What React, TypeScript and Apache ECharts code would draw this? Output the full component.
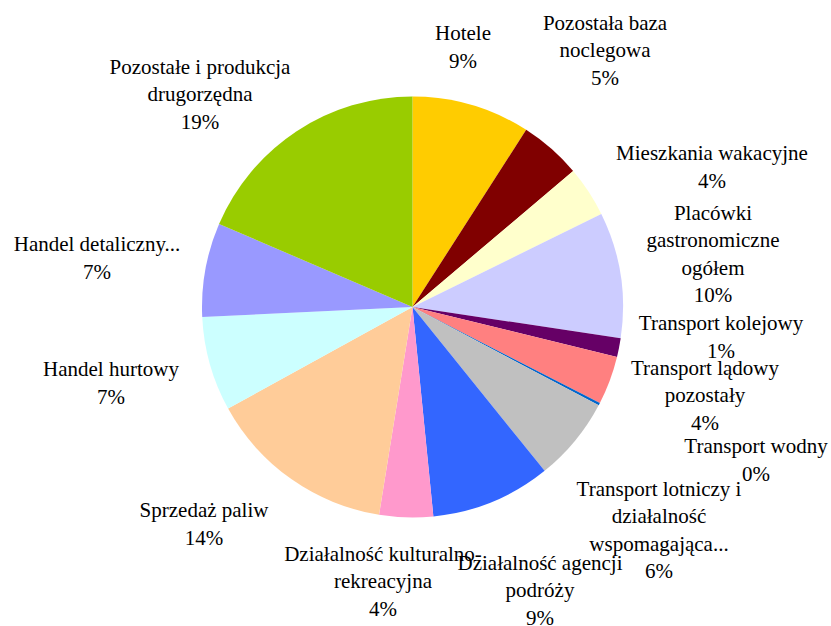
import React, { useEffect, useRef } from "react";
import * as echarts from "echarts";

const categories: string[] = [
  "Hotele",
  "Pozostała baza\nnoclegowa",
  "Mieszkania wakacyjne",
  "Placówki\ngastronomiczne\nogółem",
  "Transport kolejowy",
  "Transport lądowy\npozostały",
  "Transport wodny",
  "Transport lotniczy i\ndziałalność\nwspomagająca...",
  "Działalność agencji\npodróży",
  "Działalność kulturalno-\nrekreacyjna",
  "Sprzedaż paliw",
  "Handel hurtowy",
  "Handel detaliczny...",
  "Pozostałe i produkcja\ndrugorzędna",
];

const shares: number[] = [9.08, 4.74, 3.89, 9.66, 1.44, 3.72, 0.2, 6.47, 9.22, 4.12, 14.45, 7.26, 7.2, 18.55];

const colors: string[] = [
  "#FFCC00", "#800000", "#FFFFCC", "#CCCCFF", "#660066", "#FF8080", "#0066CC",
  "#C0C0C0", "#3366FF", "#FF99CC", "#FFCC99", "#CCFFFF", "#9999FF", "#99CC00",
];

// label block centres [x, y]
const labelPos: [number, number][] = [
  [463, 47], [605, 50], [712, 167], [713, 254], [721, 337], [705, 395], [756, 460],
  [659, 530], [540, 590], [383, 581], [204, 524], [111, 383], [97, 258], [200, 94],
];

const FONT = "Liberation Serif";

export default function App() {
  const ref = useRef<HTMLDivElement>(null);
  useEffect(() => {
    if (!ref.current) return;
    const chart = echarts.init(ref.current, undefined, { renderer: "svg" });
    chart.setOption({
      animation: false,
      backgroundColor: "#ffffff",
      textStyle: { fontFamily: FONT },
      series: [
        {
          type: "pie",
          center: [412.5, 307],
          radius: [0, 210.5],
          startAngle: 90,
          clockwise: true,
          avoidLabelOverlap: false,
          data: categories.map((name, i) => ({
            name,
            value: shares[i],
            itemStyle: { color: colors[i] },
          })),
          itemStyle: { borderWidth: 0 },
          label: {
            show: true,
            position: "outside",
            formatter: (p: any) => `${p.name}\n${Math.round(p.value)}%`,
            fontFamily: FONT,
            fontSize: 21,
            lineHeight: 27.5,
            color: "#000000",
            align: "center",
          },
          labelLine: { show: false },
          labelLayout: (params: any) => {
            const pos = labelPos[params.dataIndex];
            return { x: pos[0], y: pos[1], align: "center", verticalAlign: "middle" };
          },
          emphasis: { disabled: true },
        },
      ],
    });
    return () => chart.dispose();
  }, []);
  return (
    <div
      ref={ref}
      style={{ position: "fixed", left: 0, top: 0, width: 831, height: 626 }}
    />
  );
}
